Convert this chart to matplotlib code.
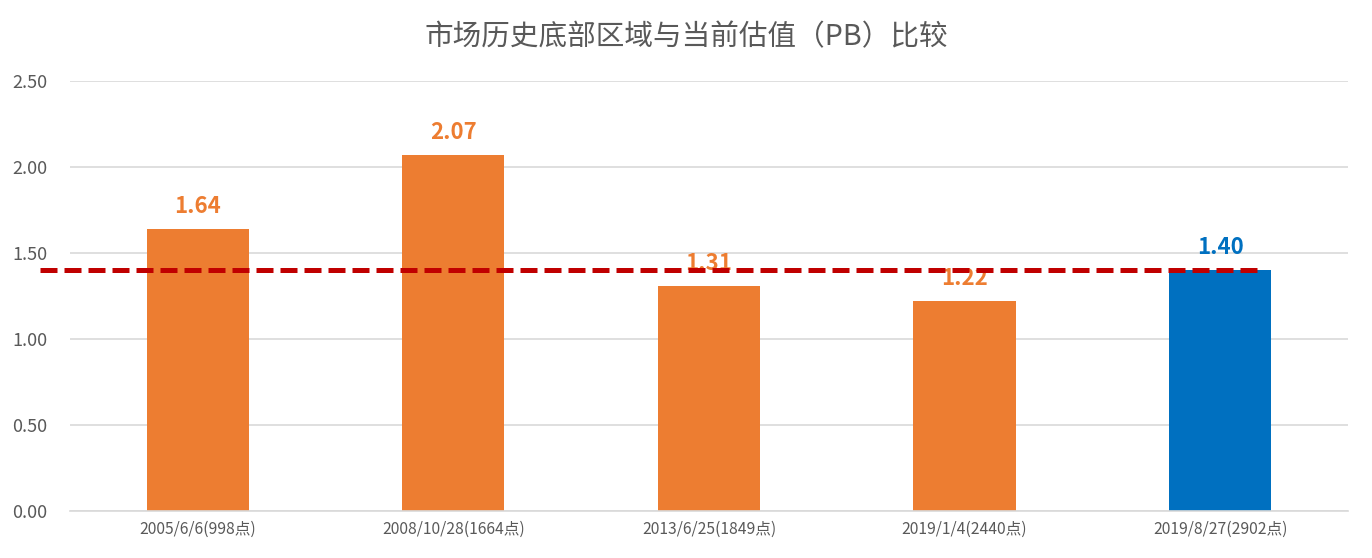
import matplotlib.pyplot as plt
import numpy as np

plt.rcParams['font.family'] = ['Noto Sans CJK SC', 'DejaVu Sans']

categories = ["2005/6/6(998点)", "2008/10/28(1664点)", "2013/6/25(1849点)",
              "2019/1/4(2440点)", "2019/8/27(2902点)"]
pb_values = [1.64, 2.07, 1.31, 1.22, 1.40]
current_pb = 1.40

orange = '#ED7D31'
blue = '#0070C0'
colors = [orange, orange, orange, orange, blue]

fig = plt.figure(figsize=(13.72, 5.58), dpi=100)
ax = fig.add_axes([0.051, 0.0842, 0.9315, 0.7708])

x = np.arange(len(categories))
bars = ax.bar(x, pb_values, width=0.40, color=colors, zorder=2)

for xi, v, c in zip(x, pb_values, colors):
    ax.annotate(f"{v:.2f}", (xi, v), xytext=(0, 8), textcoords='offset points',
                ha='center', va='bottom', fontsize=16, fontweight='bold',
                color=c, zorder=3)

# 当前估值虚线
ax.plot([-0.617, 4.156], [current_pb, current_pb], color='#C00000',
        linewidth=3.6, dashes=(3.4, 1.4), zorder=4, clip_on=False)

ax.set_xlim(-0.5, len(categories) - 0.5)
ax.set_ylim(0, 2.5)
ax.set_yticks(np.arange(0, 2.51, 0.5))
ax.set_yticklabels([f"{t:.2f}" for t in np.arange(0, 2.51, 0.5)])
ax.set_xticks(x)
ax.set_xticklabels(categories)
ax.tick_params(axis='y', length=0, pad=16, labelsize=13, labelcolor='#595959')
ax.tick_params(axis='x', length=0, pad=7, labelsize=11.3, labelcolor='#595959')
ax.grid(axis='y', color='#D9D9D9', linewidth=1.2, zorder=0)
ax.set_axisbelow(True)
for s in ['top', 'right', 'left']:
    ax.spines[s].set_visible(False)
ax.spines['bottom'].set_color('#D9D9D9')
ax.spines['bottom'].set_linewidth(1.2)

fig.text(0.5, 0.934, "市场历史底部区域与当前估值（PB）比较", ha='center', va='center',
         fontsize=20.6, color='#595959')

fig.savefig('out.png', dpi=100)
